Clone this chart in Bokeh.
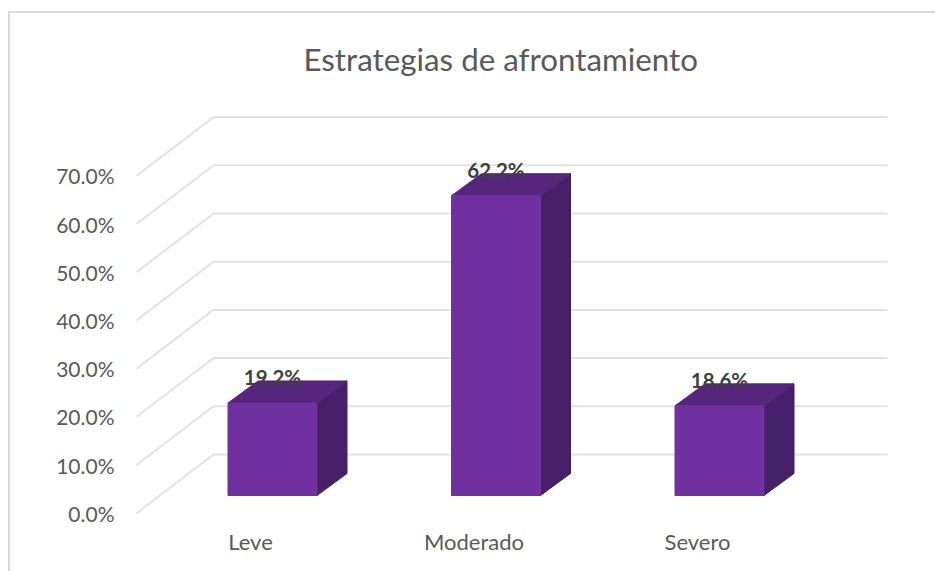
from bokeh.plotting import figure
from bokeh.embed import file_html
from bokeh.resources import INLINE
from bokeh.core.properties import value
from bokeh.models import (ColumnDataSource, FixedTicker, LinearAxis, NumeralTickFormatter, Range1d)

categories = ["Leve", "Moderado", "Severo"]
values = [0.192, 0.622, 0.186]
labels = ["19.2%", "62.2%", "18.6%"]
y_ticks = [0.0, 0.1, 0.2, 0.3, 0.4, 0.5, 0.6, 0.7]
title_text = "Estrategias de afrontamiento"

# pixels per data unit and 3-D projection, in data units
PX_X = 223.5
PX_Y = 482.0
BAR_SHIFT = 22 / PX_X
BAR_HALF = 44.5 / PX_X
DEPTH_X = 30 / PX_X
DEPTH_Y = 22 / PX_Y
BASE_Y = 17.7 / PX_Y
GRID_FRONT_X = -114 / PX_X
GRID_BACK_X = -37 / PX_X
GRID_END_X = 637 / PX_X
GRID_BACK_DY = 58.7 / PX_Y

FRONT = "#7030A0"
TOP = "#56257C"
SIDE = "#461F69"
GRID = "#E2E2E2"
TEXT = "#595959"
FONT = "Lato"

W, H = 927, 560
L, R, T, B = 111, 38, 87, 53
plot_w, plot_h = W - L - R, H - T - B

x_start = -129 / PX_X
x_end = x_start + plot_w / PX_X
y_start = -7.3 / PX_Y
y_end = y_start + plot_h / PX_Y

p = figure(width=W, height=H, output_backend="svg", toolbar_location=None,
           x_range=Range1d(x_start, x_end), y_range=Range1d(y_start, y_end),
           x_axis_type=None, y_axis_type=None,
           min_border_left=L, min_border_right=R, min_border_top=T, min_border_bottom=B,
           outline_line_color=None, background_fill_color="white", border_fill_color="white",
           margin=(11, 0, 0, 8),
           styles={"border-top": "2px solid #D9D9D9", "border-left": "2px solid #D9D9D9",
                   "box-sizing": "border-box"})
p.grid.visible = False

p.title.text = title_text
p.title.text_font = FONT
p.title.text_font_style = "normal"
p.title.text_font_size = "31.3px"
p.title.text_color = TEXT
p.title.align = "left"
p.title.offset = 182
p.title.standoff = 46

yaxis = LinearAxis(ticker=FixedTicker(ticks=y_ticks),
                   formatter=NumeralTickFormatter(format="0.0%"))
yaxis.axis_line_color = None
yaxis.major_tick_line_color = None
yaxis.minor_tick_line_color = None
yaxis.major_label_text_font = FONT
yaxis.major_label_text_font_size = "21px"
yaxis.major_label_text_color = TEXT
yaxis.major_label_standoff = 1
p.add_layout(yaxis, "left")

xaxis = LinearAxis(ticker=FixedTicker(ticks=list(range(len(categories)))),
                   major_label_overrides={i: c for i, c in enumerate(categories)})
xaxis.axis_line_color = None
xaxis.major_tick_line_color = None
xaxis.minor_tick_line_color = None
xaxis.major_label_text_font = FONT
xaxis.major_label_text_font_size = "22px"
xaxis.major_label_text_color = TEXT
xaxis.major_label_standoff = 1
p.add_layout(xaxis, "below")

# gridlines: walls in three segments (front edge to back corner to right end)
p.multi_line(xs=[[GRID_FRONT_X, GRID_BACK_X, GRID_END_X] for _ in y_ticks],
             ys=[[t, t + GRID_BACK_DY, t + GRID_BACK_DY] for t in y_ticks],
             line_color=GRID, line_width=2)

front_xs, front_ys, top_xs, top_ys, side_xs, side_ys = [], [], [], [], [], []
for i, v in enumerate(values):
    x0 = i + BAR_SHIFT - BAR_HALF
    x1 = i + BAR_SHIFT + BAR_HALF
    y0 = BASE_Y
    y1 = BASE_Y + v
    front_xs.append([x0, x1, x1, x0])
    front_ys.append([y0, y0, y1, y1])
    top_xs.append([x0, x1, x1 + DEPTH_X, x0 + DEPTH_X])
    top_ys.append([y1, y1, y1 + DEPTH_Y, y1 + DEPTH_Y])
    side_xs.append([x1, x1 + DEPTH_X, x1 + DEPTH_X, x1])
    side_ys.append([y0, y0 + DEPTH_Y, y1 + DEPTH_Y, y1])

p.patches(side_xs, side_ys, fill_color=SIDE, line_color=SIDE, line_width=1)
p.patches(top_xs, top_ys, fill_color=TOP, line_color=TOP, line_width=1)
p.patches(front_xs, front_ys, fill_color=FRONT, line_color=FRONT, line_width=1)

src = ColumnDataSource(dict(x=[i + BAR_SHIFT for i in range(len(values))],
                            y=[BASE_Y + v for v in values], t=labels))
p.text(x="x", y="y", text="t", source=src, text_font=value(FONT), text_font_style="bold",
       text_font_size="20.5px", text_color="#404040", text_align="center",
       text_baseline="middle", y_offset=-26)

open("out.html", "w").write(file_html(p, INLINE))
